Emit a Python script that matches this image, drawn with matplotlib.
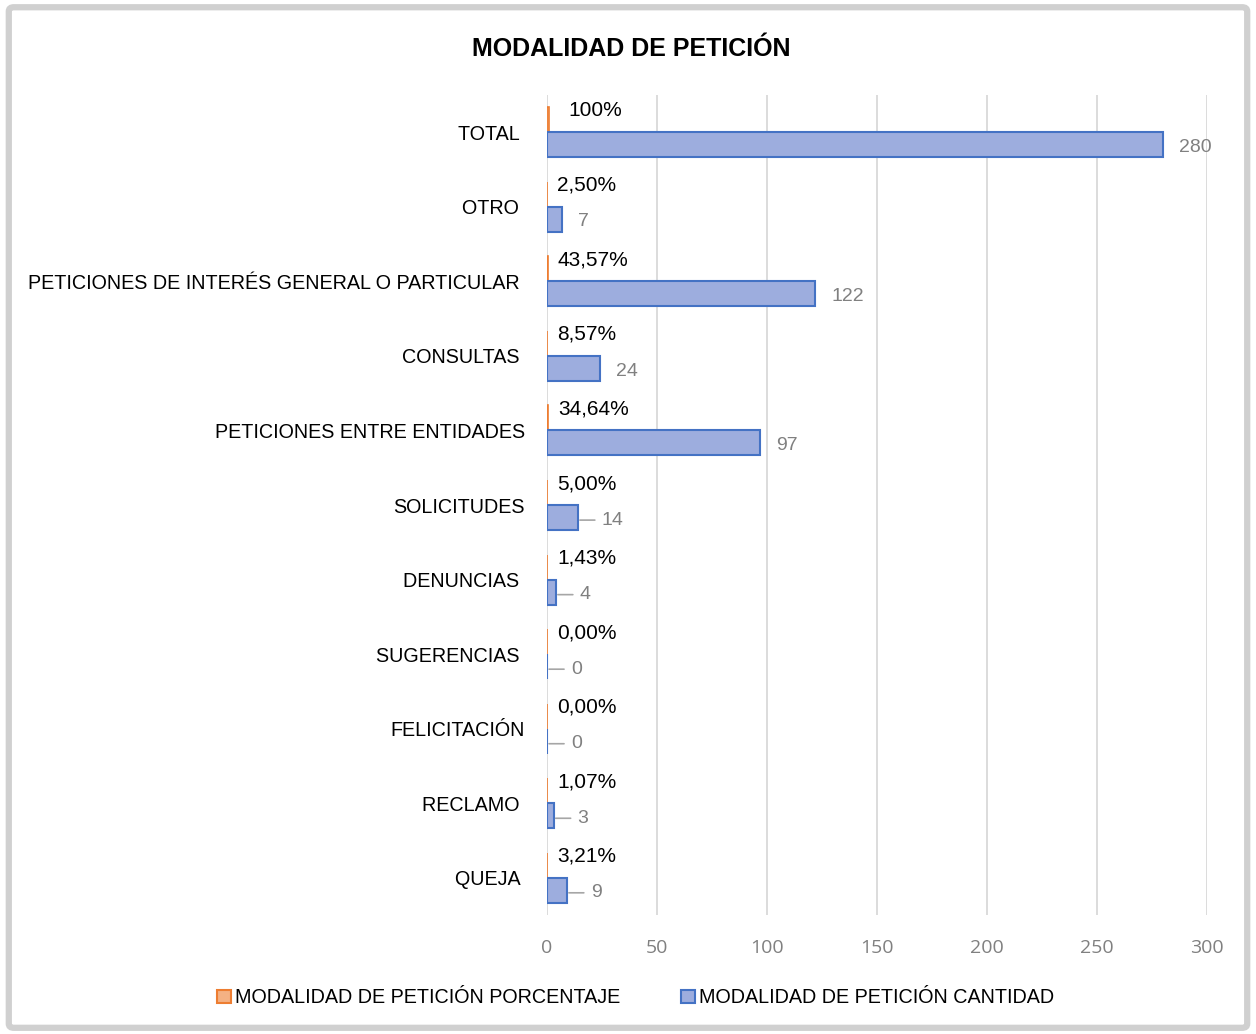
import numpy as np
import matplotlib
matplotlib.use('Agg')
import matplotlib.pyplot as plt
from matplotlib.patches import FancyBboxPatch, Patch

categories = ["QUEJA ", "RECLAMO ", "FELICITACIÓN", "SUGERENCIAS ", "DENUNCIAS ",
              "SOLICITUDES", "PETICIONES ENTRE ENTIDADES", "CONSULTAS ",
              "PETICIONES DE INTERÉS GENERAL O PARTICULAR ", "OTRO ", "TOTAL "]
cantidad = [9, 3, 0, 0, 4, 14, 97, 24, 122, 7, 280]
porcentaje = [3.21, 1.07, 0.00, 0.00, 1.43, 5.00, 34.64, 8.57, 43.57, 2.50, 100.0]
leader = [True, True, True, True, True, True, False, False, False, False, False]
xticks = [0, 50, 100, 150, 200, 250, 300]

FONT = ['Liberation Sans Narrow', 'Liberation Sans', 'DejaVu Sans']
BLUE_EDGE = '#4472c4'
BLUE_FILL = '#9dadde'
ORANGE_EDGE = '#ed7d31'
ORANGE_FILL = '#f4b183'
GRAY = '#808080'

fig = plt.figure(figsize=(12.56, 10.34), dpi=100)
ax = fig.add_axes([0.4355, 0.1151, 0.5255, 0.793])

# grey frame around the chart
frame = FancyBboxPatch((0.007, 0.006), 0.986, 0.987, boxstyle='round,pad=0,rounding_size=0.004',
                       transform=fig.transFigure, facecolor='none', edgecolor='#d0d0d0',
                       linewidth=4.5, zorder=0)
fig.patches.append(frame)

y = np.arange(len(categories))
h = 0.335
ax.barh(y + h / 2, [p / 100 for p in porcentaje], height=h, color=ORANGE_FILL,
        edgecolor=ORANGE_EDGE, linewidth=1.2, zorder=3)
ax.barh(y - h / 2, cantidad, height=h, color=BLUE_FILL, edgecolor=BLUE_EDGE,
        linewidth=1.5, zorder=3)

for i, (c, p, ld) in enumerate(zip(cantidad, porcentaje, leader)):
    ptxt = ('%.2f%%' % p).replace('.', ',') if p != 100 else '100%'
    ax.annotate(ptxt, xy=(p / 100, i + h / 2 + 0.12), xytext=(10 if p != 100 else 19, 0),
                textcoords='offset pixels', ha='left', va='center', fontsize=15,
                family=FONT, color='black', zorder=5)
    if ld:
        ax.annotate(str(c), xy=(c, i - h / 2 - 0.035), xytext=(24, 0), textcoords='offset pixels',
                    ha='left', va='center', fontsize=14, family=FONT, color=GRAY,
                    arrowprops=dict(arrowstyle='-', color='#a6a6a6', lw=1.2,
                                    shrinkA=3, shrinkB=1.5), zorder=5)
    else:
        ax.annotate(str(c), xy=(c, i - h / 2 - 0.035), xytext=(16, 0), textcoords='offset pixels',
                    ha='left', va='center', fontsize=14, family=FONT, color=GRAY, zorder=5)

ax.set_xlim(0, 300)
ax.set_ylim(-0.5, len(categories) - 0.5)
ax.set_xticks(xticks)
ax.set_xticklabels([str(t) for t in xticks], fontsize=14, color=GRAY, family='Open Sans')
ax.set_yticks(y)
ax.set_yticklabels(categories, fontsize=14.2, family=FONT)
ax.tick_params(axis='both', length=0)
ax.tick_params(axis='y', pad=16)
ax.tick_params(axis='x', pad=17)
ax.grid(axis='x', color='#d9d9d9', linewidth=1.3, zorder=0)
for s in ax.spines.values():
    s.set_visible(False)

fig.text(0.5025, 0.953, 'MODALIDAD DE PETICIÓN', ha='center', va='center',
         fontsize=18, fontweight='bold', family=FONT)

handles = [Patch(facecolor=ORANGE_FILL, edgecolor=ORANGE_EDGE, linewidth=1.5,
                 label='MODALIDAD DE PETICIÓN PORCENTAJE'),
           Patch(facecolor=BLUE_FILL, edgecolor=BLUE_EDGE, linewidth=1.5,
                 label='MODALIDAD DE PETICIÓN CANTIDAD')]
fig.legend(handles=handles, loc='center', bbox_to_anchor=(0.506, 0.035), ncol=2,
           frameon=False, prop={'family': FONT, 'size': 14.2}, handlelength=0.7,
           handleheight=0.7, handletextpad=0.2, columnspacing=3.1)

fig.savefig('out.png', dpi=100)
